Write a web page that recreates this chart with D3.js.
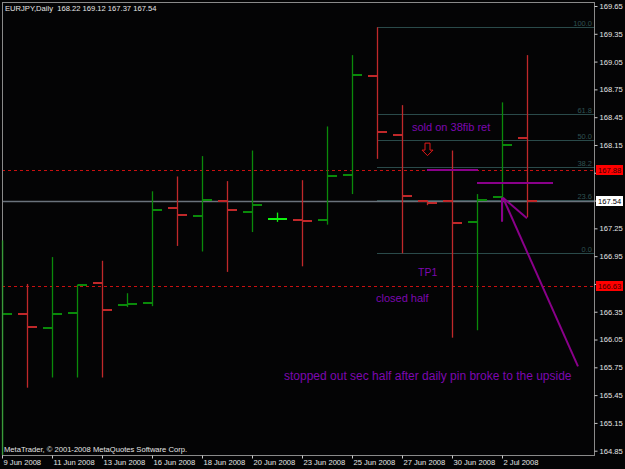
<!DOCTYPE html>
<html>
<head>
<meta charset="utf-8">
<style>
  body { margin: 0; background: #000; }
  svg { display: block; }
  .axis text { fill: #e6e6e6; font-family: "Liberation Sans", Arial, sans-serif; font-size: 7.6px; }
  .axis line { stroke: #c8c8c8; }
  .axis path { display: none; }
</style>
<script src="https://d3js.org/d3.v7.min.js"></script>
</head>
<body>
<svg width="625" height="469"></svg>
<script>
// EURJPY daily bars, 9 Jun - 3 Jul 2008 (Sunday bars included)
var dates = ["9 Jun 2008", "10 Jun 2008", "11 Jun 2008", "12 Jun 2008", "13 Jun 2008", "15 Jun 2008",
  "16 Jun 2008", "17 Jun 2008", "18 Jun 2008", "19 Jun 2008", "20 Jun 2008", "22 Jun 2008",
  "23 Jun 2008", "24 Jun 2008", "25 Jun 2008", "26 Jun 2008", "27 Jun 2008", "29 Jun 2008",
  "30 Jun 2008", "1 Jul 2008", "2 Jul 2008", "3 Jul 2008"];
var opens  = [166.00, 166.33, 166.17, 166.34, 166.66, 166.42, 166.44, 167.47, 167.38, 167.55, 167.43, 167.35,
              167.34, 167.34, 167.83, 168.89, 168.26, 167.54, 167.54, 167.32, 167.59, 168.22];
var highs  = [167.12, 166.65, 166.94, 166.64, 166.90, 166.55, 167.65, 167.81, 168.03, 167.76, 168.09, 167.42,
              167.77, 168.35, 169.12, 169.42, 168.58, 167.55, 168.09, 167.62, 168.61, 169.12];
var lows   = [164.70, 165.53, 165.64, 165.64, 165.64, 166.40, 166.41, 167.06, 167.00, 166.78, 167.21, 167.32,
              166.84, 167.29, 167.62, 168.00, 166.98, 167.50, 166.07, 166.15, 167.33, 167.37];
var closes = [166.33, 166.18, 166.33, 166.64, 166.37, 166.43, 167.45, 167.39, 167.56, 167.45, 167.50, 167.35,
              167.33, 167.82, 168.90, 168.29, 167.60, 167.52, 167.31, 167.56, 168.15, 167.54];

var yTicks = [169.65, 169.35, 169.05, 168.75, 168.45, 168.15, 167.85, 167.55, 167.25, 166.95,
              166.65, 166.35, 166.05, 165.75, 165.45, 165.15, 164.85];
var xTickIdx = [0, 2, 4, 6, 8, 10, 12, 14, 16, 18, 20];

var bidPrice = 167.54;
var dashLevels = [167.88, 166.63];
var fibHigh = 169.42, fibLow = 166.98, fibStart = 15;
var fibRatios = [0, 23.6, 38.2, 50.0, 61.8, 100.0];

var purple = "#8a008a";
var notes = [
  {text: "sold on 38fib ret", i: 16.4, p: 168.30, size: 11},
  {text: "TP1", i: 16.64, p: 166.74, size: 10.5},
  {text: "closed half", i: 14.96, p: 166.455, size: 11},
  {text: "stopped out sec half after daily pin broke to the upside", i: 11.28, p: 165.61, size: 12}
];
// purple trend lines as [i1, p1, i2, p2]
var segs = [
  [17, 167.88, 19.04, 167.88],
  [19, 167.74, 22.04, 167.74],
  [23.04, 165.76, 20.04, 167.58],
  [20.0, 167.58, 20.0, 167.32],
  [20.04, 167.58, 21.0, 167.36]
];

var svg = d3.select("svg");
var plot = {left: 2, right: 594, top: 2, bottom: 455};
var smallFont = "Liberation Sans, Arial, sans-serif";

svg.append("rect").attr("width", 625).attr("height", 469).attr("fill", "#040405");

var x = d3.scaleLinear().domain([0, dates.length - 1]).range([2, 2 + 25 * (dates.length - 1)]);
var y = d3.scaleLinear().domain([164.85, 169.65]).range([450.7, 6]);

svg.append("defs").append("clipPath").attr("id", "plot")
  .append("rect").attr("x", plot.left).attr("y", plot.top)
  .attr("width", plot.right - plot.left).attr("height", plot.bottom - plot.top);

var g = svg.append("g").attr("clip-path", "url(#plot)");

function fibY(d) { return Math.round(y(fibLow + (fibHigh - fibLow) * d / 100)); }

// fibo levels
g.selectAll(".fib").data(fibRatios).enter().append("line")
  .attr("x1", x(fibStart)).attr("x2", plot.right)
  .attr("y1", function(d) { return fibY(d) + 0.5; })
  .attr("y2", function(d) { return fibY(d) + 0.5; })
  .attr("stroke", "#2a4a4a").attr("stroke-width", 1);
g.selectAll(".fibtxt").data(fibRatios).enter().append("text")
  .attr("x", plot.right - 2)
  .attr("y", function(d) { return fibY(d) - 1; })
  .attr("text-anchor", "end")
  .attr("fill", "#2f5252")
  .attr("font-family", smallFont)
  .attr("font-size", 7.5)
  .text(function(d) { return d.toFixed(1); });

// red dashed levels
g.selectAll(".lvl").data(dashLevels).enter().append("line")
  .attr("x1", plot.left).attr("x2", plot.right)
  .attr("y1", function(d) { return Math.round(y(d)) + 0.5; })
  .attr("y2", function(d) { return Math.round(y(d)) + 0.5; })
  .attr("stroke", "#c81010").attr("stroke-dasharray", "3,3");

// bid line
g.append("line")
  .attr("x1", plot.left).attr("x2", plot.right)
  .attr("y1", y(bidPrice)).attr("y2", y(bidPrice))
  .attr("stroke", "#6a727c").attr("stroke-width", 1.6);

// bars
function barColor(i) {
  if (closes[i] > opens[i]) return "#0a8a0a";
  if (closes[i] < opens[i]) return "#c0282a";
  return "#10f010";
}
var bars = g.selectAll(".bar").data(d3.range(dates.length)).enter().append("g")
  .attr("stroke", barColor);
bars.append("line")
  .attr("x1", function(i) { return x(i) + 0.5; }).attr("x2", function(i) { return x(i) + 0.5; })
  .attr("y1", function(i) { return y(highs[i]); }).attr("y2", function(i) { return y(lows[i]); })
  .attr("stroke-width", 1.3);
bars.append("line")
  .attr("x1", function(i) { return x(i) - 9; }).attr("x2", function(i) { return x(i) + 0.5; })
  .attr("y1", function(i) { return Math.round(y(opens[i])); }).attr("y2", function(i) { return Math.round(y(opens[i])); })
  .attr("stroke-width", 2);
bars.append("line")
  .attr("x1", function(i) { return x(i) + 0.5; }).attr("x2", function(i) { return x(i) + 10; })
  .attr("y1", function(i) { return Math.round(y(closes[i])); }).attr("y2", function(i) { return Math.round(y(closes[i])); })
  .attr("stroke-width", 2);

// annotations
g.selectAll(".seg").data(segs).enter().append("line")
  .attr("x1", function(d) { return x(d[0]); }).attr("y1", function(d) { return y(d[1]); })
  .attr("x2", function(d) { return x(d[2]); }).attr("y2", function(d) { return y(d[3]); })
  .attr("stroke", purple).attr("stroke-width", 2);

g.selectAll(".note").data(notes).enter().append("text")
  .attr("x", function(d) { return x(d.i); })
  .attr("y", function(d) { return y(d.p); })
  .attr("fill", "#7d08b0")
  .attr("font-family", "Liberation Sans, Arial, sans-serif")
  .attr("font-size", function(d) { return d.size; })
  .text(function(d) { return d.text; });

// sell arrow (hollow, pointing down)
var ax = x(17), ay = y(168.17);
g.append("path")
  .attr("d", "M" + (ax - 2) + "," + ay + "h5v7h3l-5.5,5.5l-5.5,-5.5h3z")
  .attr("fill", "none").attr("stroke", "#e01818").attr("stroke-width", 1);

// frame
svg.append("rect")
  .attr("x", plot.left + 0.5).attr("y", plot.top + 0.5)
  .attr("width", plot.right - plot.left).attr("height", plot.bottom - plot.top)
  .attr("fill", "none").attr("stroke", "#8a8a8a");

// bar 0 sits on the frame edge
svg.append("line")
  .attr("x1", plot.left + 0.5).attr("x2", plot.left + 0.5)
  .attr("y1", y(highs[0])).attr("y2", plot.bottom)
  .attr("stroke", "#3a9a3a").attr("stroke-width", 1.3);

// price labels on the right scale
var tags = [
  {p: dashLevels[0], bg: "#ff0000", fg: "#3a0000"},
  {p: bidPrice, bg: "#ffffff", fg: "#000000"},
  {p: dashLevels[1], bg: "#ff0000", fg: "#3a0000"}
];

// axes (tick labels under a price tag are hidden, as on the terminal)
svg.append("g").attr("class", "axis")
  .attr("transform", "translate(" + (plot.right + 0.5) + ",0)")
  .call(d3.axisRight(y).tickValues(yTicks).tickSize(3).tickPadding(2)
    .tickFormat(function(d) {
      var covered = tags.some(function(t) { return Math.abs(y(t.p) - y(d)) < 9; });
      return covered ? "" : d.toFixed(2);
    }));

svg.append("g").attr("class", "axis")
  .attr("transform", "translate(0," + (plot.bottom + 0.5) + ")")
  .call(d3.axisBottom(x).tickValues(xTickIdx).tickSize(3).tickPadding(1)
    .tickFormat(function(i) { return dates[i]; }))
  .selectAll("text").attr("text-anchor", "start").attr("dx", "1");

var tg = svg.selectAll(".tag").data(tags).enter().append("g");
tg.append("rect")
  .attr("x", plot.right + 2).attr("width", 27).attr("height", 10)
  .attr("y", function(d) { return Math.round(y(d.p)) - 5; })
  .attr("fill", function(d) { return d.bg; });
tg.append("text")
  .attr("x", plot.right + 4).attr("y", function(d) { return Math.round(y(d.p)) + 3; })
  .attr("fill", function(d) { return d.fg; })
  .attr("font-family", smallFont)
  .attr("font-size", 7.6)
  .text(function(d) { return d.p.toFixed(2); });

// header and copyright
var last = dates.length - 1;
svg.append("text")
  .attr("x", 5).attr("y", 11)
  .attr("fill", "#e6e6e6")
  .attr("font-family", smallFont)
  .attr("font-size", 7.6)
  .attr("xml:space", "preserve")
  .text("EURJPY,Daily  " + [opens[last], highs[last], lows[last], closes[last]].map(function(v) { return v.toFixed(2); }).join(" "));

svg.append("text")
  .attr("x", 4).attr("y", 452)
  .attr("fill", "#e6e6e6")
  .attr("font-family", smallFont)
  .attr("font-size", 7.6)
  .text("MetaTrader, \u00a9 2001-2008 MetaQuotes Software Corp.");
</script>
</body>
</html>
